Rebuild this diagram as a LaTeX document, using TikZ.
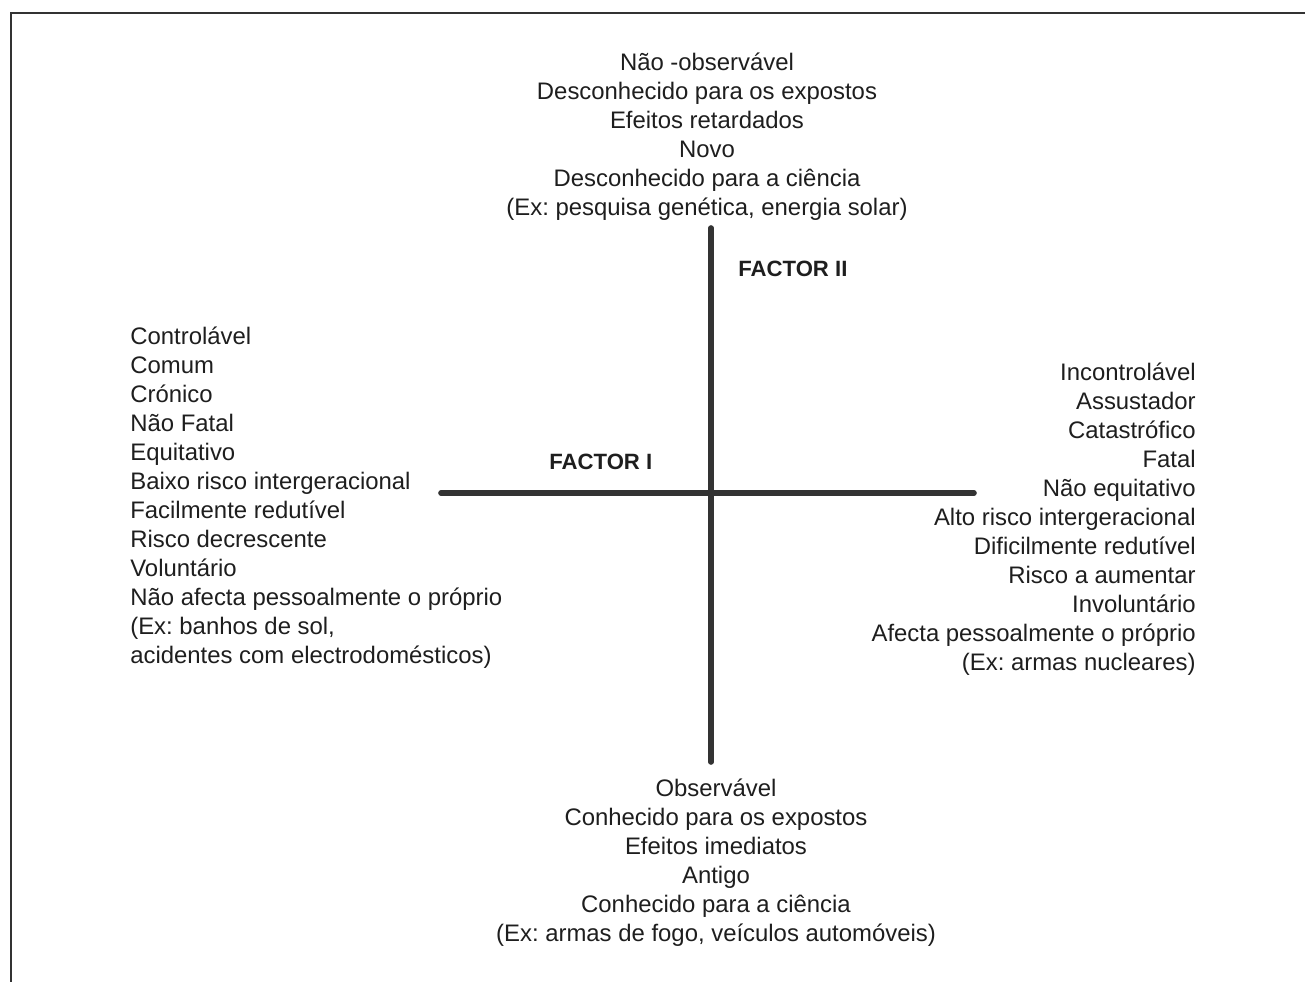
\documentclass[tikz,border=0pt]{standalone}
\usepackage{fontspec}
\setmainfont{Liberation Sans}
\frenchspacing
\definecolor{ink}{HTML}{1E1E1E}
\definecolor{axis}{HTML}{333333}
\tikzset{
  lista/.style={inner sep=0pt, text=ink, font=\fontsize{13.6}{16.5}\selectfont},
  factor/.style={inner sep=0pt, text=ink, font=\fontsize{12.6}{14}\selectfont\bfseries, anchor=west},
  eixo/.style={line width=3.2pt, color=axis, line cap=round}
}
\begin{document}
\begin{tikzpicture}[x=0.02cm, y=-0.02cm]
  \useasboundingbox (0,0) rectangle (1305,982);
  % frame
  \coordinate (fa) at (11,982);
  \coordinate (fb) at (11,13);
  \coordinate (fc) at (1305,13);
  \draw[line width=1pt, color=axis] (fa) -- (fb) -- (fc);
  % axes
  \coordinate (n) at (711,228);
  \coordinate (s) at (711,762);
  \coordinate (w) at (441,493);
  \coordinate (e) at (974,493);
  \draw[eixo] (n) -- (s);
  \draw[eixo] (w) -- (e);
  % factors
  \node[factor] (f2) at (738,269) {FACTOR II};
  \node[factor] (f1) at (549,462) {FACTOR I};
  % top
  \node[lista, align=center] (cima) at (707,136.5) {N\~ao -observ\'avel\\
    Desconhecido para os expostos\\
    Efeitos retardados\\
    Novo\\
    Desconhecido para a ci\^encia\\
    (Ex: pesquisa gen\'etica, energia solar)};
  % left
  \node[lista, align=left, anchor=west] (esq) at (130,497.5) {Control\'avel\\
    Comum\\
    Cr\'onico\\
    N\~ao Fatal\\
    Equitativo\\
    Baixo risco intergeracional\\
    Facilmente redut\'ivel\\
    Risco decrescente\\
    Volunt\'ario\\
    N\~ao afecta pessoalmente o pr\'oprio\\
    (Ex: banhos de sol,\\
    acidentes com electrodom\'esticos)};
  % right
  \node[lista, align=right, anchor=east] (dir) at (1196,519) {Incontrol\'avel\\
    Assustador\\
    Catastr\'ofico\\
    Fatal\\
    N\~ao equitativo\\
    Alto risco intergeracional\\
    Dificilmente redut\'ivel\\
    Risco a aumentar\\
    Involunt\'ario\\
    Afecta pessoalmente o pr\'oprio\\
    (Ex: armas nucleares)};
  % bottom
  \node[lista, align=center] (baixo) at (716,862.5) {Observ\'avel\\
    Conhecido para os expostos\\
    Efeitos imediatos\\
    Antigo\\
    Conhecido para a ci\^encia\\
    (Ex: armas de fogo, ve\'iculos autom\'oveis)};
\end{tikzpicture}
\end{document}
